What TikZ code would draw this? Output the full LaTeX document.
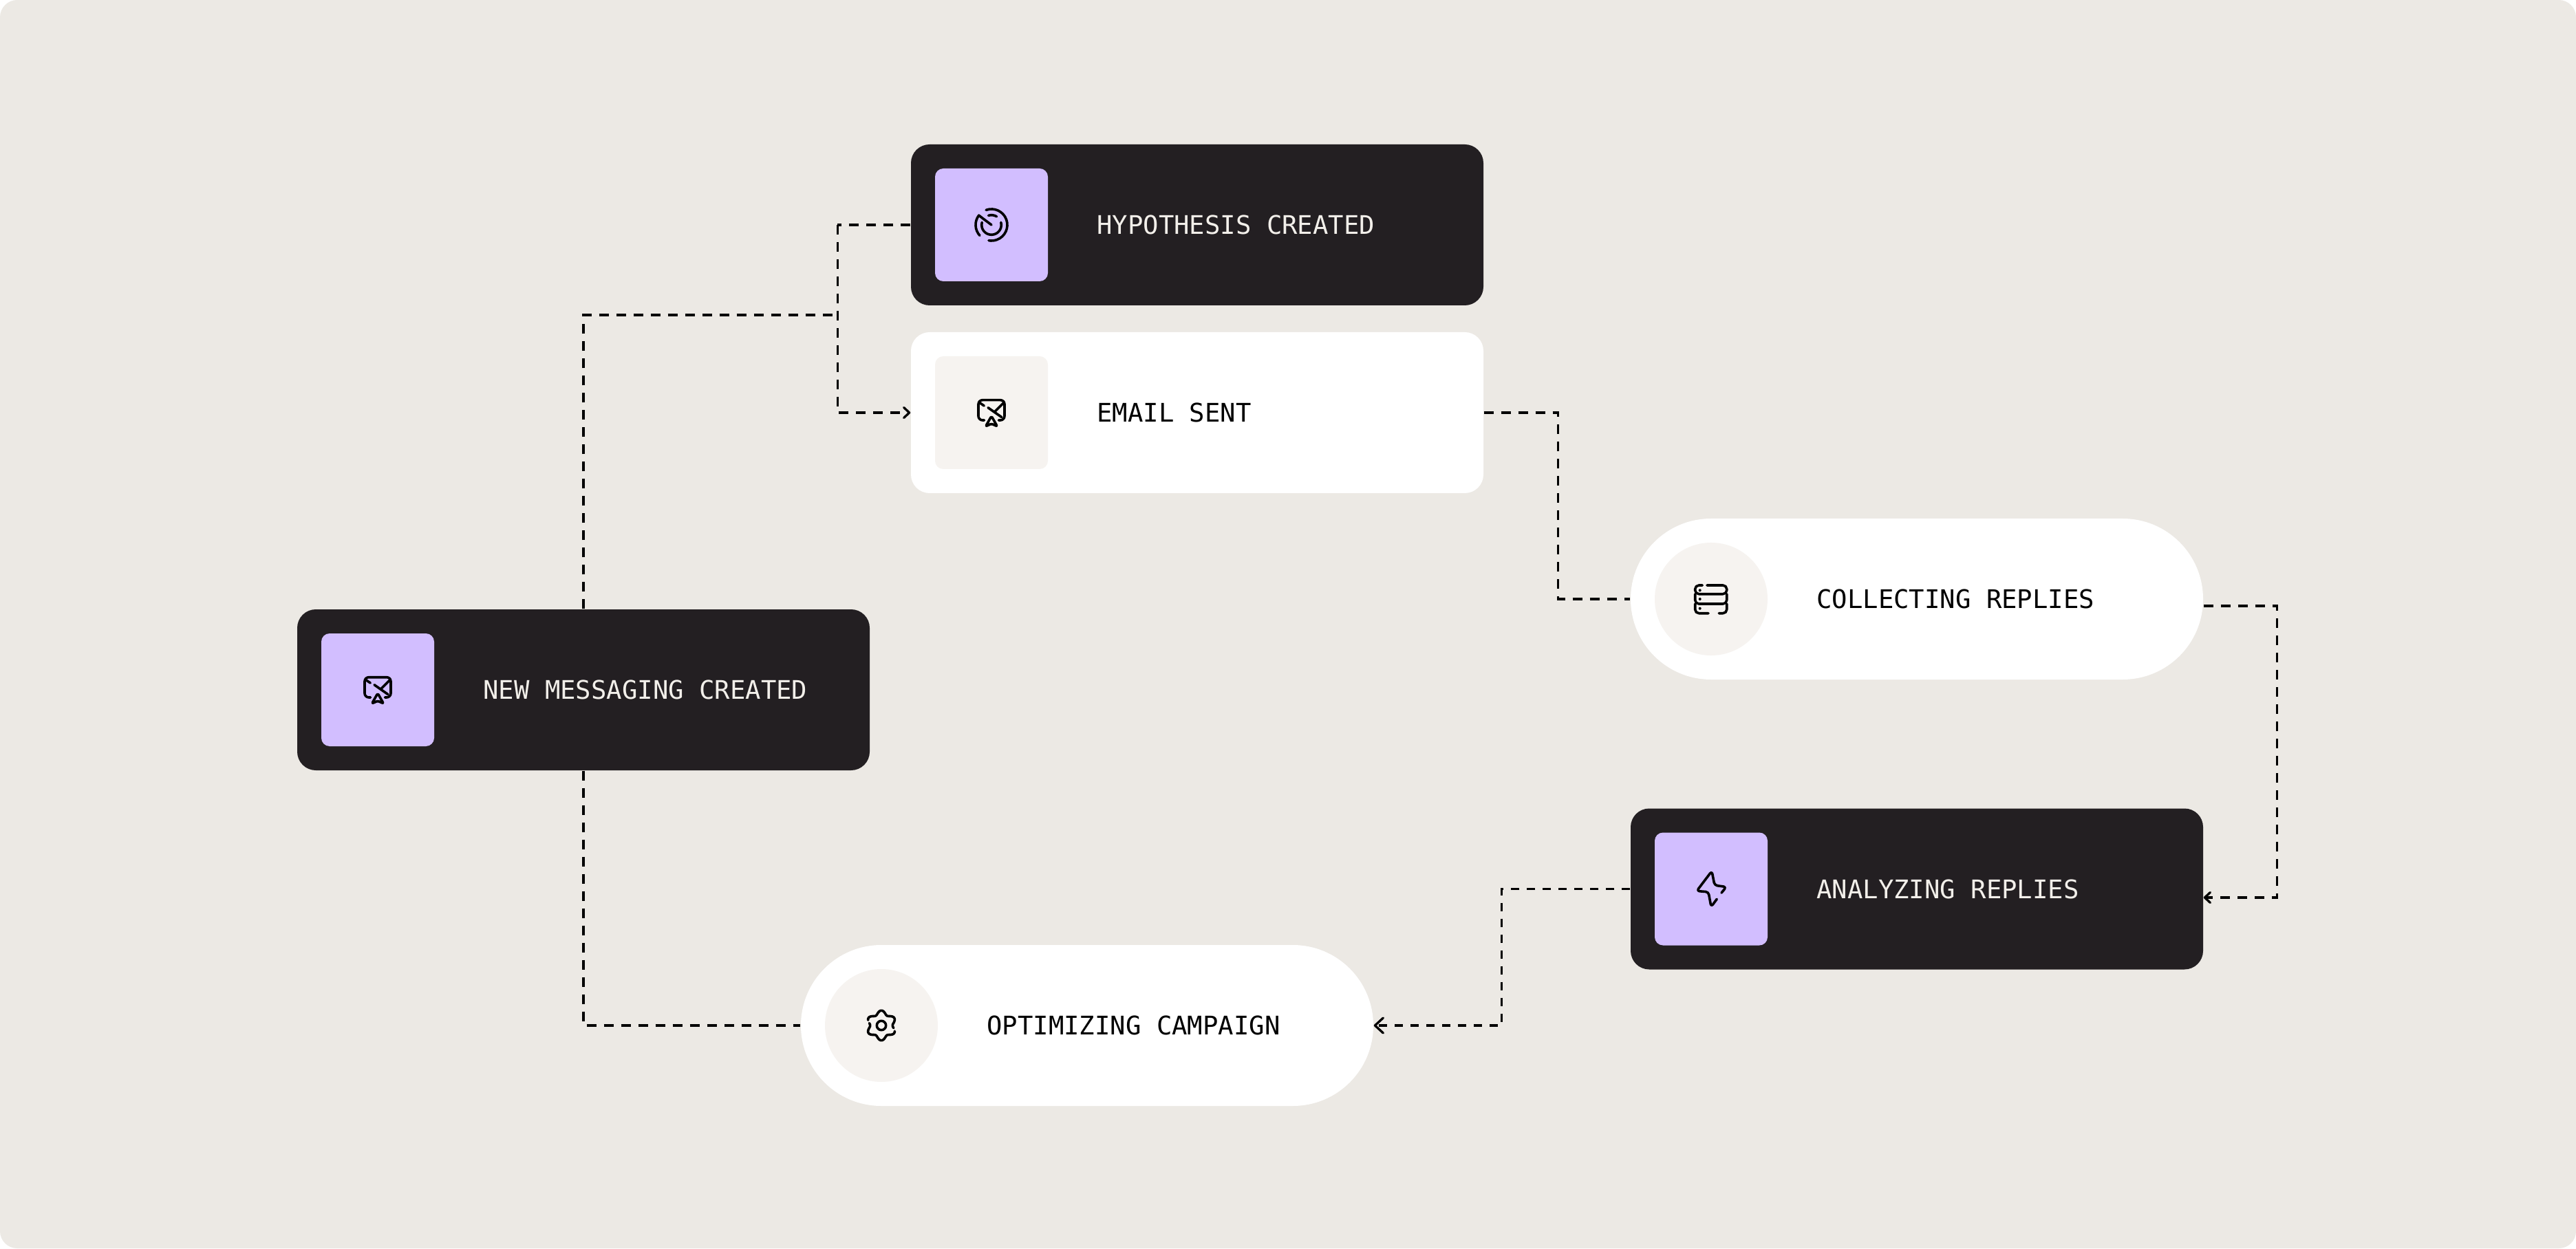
\documentclass[tikz,border=0pt]{standalone}
\usepackage{fontspec}
\setmainfont{DejaVu Sans Mono}
\usetikzlibrary{arrows.meta,positioning,calc}
\definecolor{paper}{HTML}{ECE9E4}
\definecolor{ink}{HTML}{231F22}
\definecolor{lilac}{HTML}{D2BEFF}
\definecolor{shell}{HTML}{F6F3F0}
\definecolor{chalk}{HTML}{F2EFEA}

\begin{document}
\begin{tikzpicture}[x=1mm,y=1mm,
  card/.style={rounded corners=2.7mm,minimum width=83.2mm,minimum height=23.4mm,inner sep=0pt},
  dark/.style={card,fill=ink},
  plain/.style={card,fill=white},
  pill/.style={card,fill=white,rounded corners=11.69mm},
  tile/.style={minimum size=16.4mm,inner sep=0pt,rounded corners=1.2mm},
  ltile/.style={tile,fill=lilac},
  stile/.style={tile,fill=shell},
  disc/.style={circle,minimum size=16.4mm,inner sep=0pt,fill=shell},
  lab/.style={inner sep=0pt,font=\fontsize{10.6pt}{12pt}\selectfont,text=black},
  wlab/.style={lab,text=chalk},
  wire/.style={line width=.33mm,dash pattern=on 1.4mm off 1.1mm},
  arrs/.style={wire,-{Straight Barb[length=.8mm,width=1.5mm,round]}},
  arrb/.style={wire,dash pattern=on 1.2mm off 1.1mm,-{Straight Barb[length=1.2mm,width=2.2mm,round]}},
  icn/.style={line width=.36mm,line cap=round,line join=round},
  pics/gauge/.style={code={
    \draw[icn] (110:2.3) arc (110:-100:2.3);
    \draw[icn] (0,0) -- (143:2.3) arc (143:222:2.3);
    \draw[icn] (108:1.43) arc (108:58:1.43);
    \draw[icn] (15:1.43) arc (15:-195:1.43);
  }},
  pics/mailsend/.style={code={
    \draw[icn,rounded corners=.6mm] (-1.05,-1.1) -- (-1.9,-1.1) -- (-1.9,1.83) -- (1.9,1.83) -- (1.9,-1.1) -- (1.05,-1.1);
    \draw[icn] (-1.7,1.43) -- (-1.07,1);
    \draw[icn] (-.5,.73) -- (1.5,-.67);
    \draw[icn] (1.83,1.5) -- (.43,.1);
    \draw[icn,rounded corners=.25mm] (0,-.5) -- (-.85,-2) -- (0,-1.6) -- (.85,-2) -- cycle;
  }},
  pics/server/.style={code={
    \draw[icn,rounded corners=.55mm] (-1.27,2) -- (-2.33,2) -- (-2.33,.73) -- (2.27,.73) -- (2.27,2) -- (-.6,2);
    \draw[icn,rounded corners=.55mm] (-2.33,.73) -- (-2.33,-.7) -- (2.27,-.7) -- (2.27,.73);
    \draw[icn,rounded corners=.55mm] (-.4,-2.07) -- (-2.33,-2.07) -- (-2.33,-.7);
    \draw[icn,rounded corners=.55mm] (2.27,-.7) -- (2.27,-2.07) -- (1.13,-2.07);
    \foreach \dy in {1.27,0,-1.37} \fill (-1.63,\dy) circle (.2);
  }},
  pics/bolt/.style={code={
    \draw[icn,rounded corners=.4mm] (1.5,-.57) -- (2.2,.3) -- (.5,.53) -- (.1,2.6) -- (-2.1,-.3) -- (-.4,-.43) -- (0,-2.6) -- (.83,-1.47);
  }},
  pics/gear/.style={code={
    \draw[icn] plot[domain=158:-12,samples=70,smooth] (\x:{1.9-.27*cos(6*\x)});
    \draw[icn] plot[domain=-23:-191,samples=70,smooth] (\x:{1.9-.27*cos(6*\x)});
    \draw[icn] (0,0) circle (.67);
  }}]
\useasboundingbox (0,0) rectangle (374.4,181.5);
\fill[paper,rounded corners=2.5mm] (0,0) rectangle (374.4,181.5);

\node[dark] (hyp) at (174,148.8) {};
\node[ltile,right=3.5mm of hyp.west] (hyptile) {};
\node[wlab,right=7mm of hyptile] (hyplab) {HYPOTHESIS CREATED};
\node[plain] (email) at (174,121.5) {};
\node[stile,right=3.5mm of email.west] (emailtile) {};
\node[lab,right=7mm of emailtile] (emaillab) {EMAIL SENT};
\node[dark] (msg) at (84.8,81.2) {};
\node[ltile,right=3.5mm of msg.west] (msgtile) {};
\node[wlab,right=7mm of msgtile] (msglab) {NEW MESSAGING CREATED};
\node[pill] (coll) at (278.6,94.4) {};
\node[disc,right=3.5mm of coll.west] (colltile) {};
\node[lab,right=7mm of colltile] (colllab) {COLLECTING REPLIES};
\node[dark] (ana) at (278.6,52.25) {};
\node[ltile,right=3.5mm of ana.west] (anatile) {};
\node[wlab,right=7mm of anatile] (analab) {ANALYZING REPLIES};
\node[pill] (opt) at (158,32.4) {};
\node[disc,right=3.5mm of opt.west] (opttile) {};
\node[lab,right=7mm of opttile] (optlab) {OPTIMIZING CAMPAIGN};

\pic at (hyptile.center) {gauge};
\pic at (emailtile.center) {mailsend};
\pic at (msgtile.center) {mailsend};
\pic at (colltile.center) {server};
\pic at (anatile.center) {bolt};
\pic at (opttile.center) {gear};

\coordinate (fork) at ($(hyp.west)+(-10.6,0)$);
\coordinate (collout) at ($(coll.east)+(0,-1)$);
\coordinate (anain) at ($(ana.east)+(0,-1.25)$);
\draw[wire] (hyp.west) -- (fork);
\draw[arrs] (fork) |- (email.west);
\draw[wire] (msg.north) |- ($(fork)+(0,-13.1)$);
\draw[wire] (msg.south) |- (opt.west);
\draw[wire] (email.east) -- ++(10.8,0) |- (coll.west);
\draw[arrs] (collout) -- ++(10.7,0) |- (anain);
\draw[arrb] (ana.west) -- ++(-18.7,0) |- (opt.east);
\end{tikzpicture}
\end{document}
